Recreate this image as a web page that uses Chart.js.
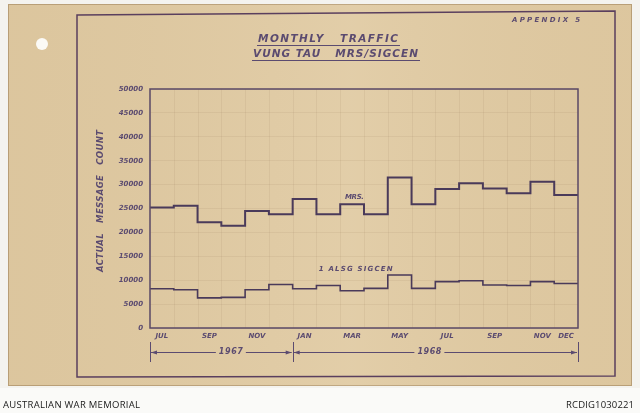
<!DOCTYPE html>
<html><head><meta charset="utf-8">
<script src="https://cdn.jsdelivr.net/npm/chart.js@4.4.0/dist/chart.umd.min.js"></script>
<style>html,body{margin:0;padding:0;background:#f5f4f0;}#wrap{width:640px;height:413px;position:relative;overflow:hidden}</style>
</head><body><div id="wrap"><canvas id="c" width="640" height="413"></canvas></div>
<script>
// ---- data ----
const months = ['JUL','AUG','SEP','OCT','NOV','DEC','JAN','FEB','MAR','APR','MAY','JUN','JUL','AUG','SEP','OCT','NOV','DEC'];
const shownMonthIdx = [0,2,4,6,8,10,12,14,16,17];
const mrs    = [25200,25600,22100,21400,24500,23800,27000,23800,25900,23800,31500,25900,29100,30300,29200,28200,30600,27800];
const sigcen = [8200,8000,6300,6400,8000,9100,8200,8900,7800,8300,11100,8300,9700,9900,9000,8900,9700,9300];
const seriesNames = ['MRS.', '1 ALSG SIGCEN'];
const years = [{label:'1967', from:0, to:6}, {label:'1968', from:6, to:18}];
const titleLines = ['MONTHLY   TRAFFIC', 'VUNG TAU   MRS/SIGCEN'];
const yTitle = 'ACTUAL   MESSAGE   COUNT';
const appendixText = 'APPENDIX 5';
const footerLeft = 'AUSTRALIAN WAR MEMORIAL';
const footerRight = 'RCDIG1030221';

const INK = '#5b4b70';
const LINE = '#4a3a5a';
const PAPER = '#e0caa2';

function steps(arr){
  const pts = arr.map((v,i)=>({x:i, y:v}));
  pts.push({x:arr.length, y:arr[arr.length-1]});
  return pts;
}

function fitText(ctx, text, x, y, width, align){
  ctx.save();
  ctx.letterSpacing = '0px';
  const w0 = ctx.measureText(text).width;
  const n = text.length;
  const sp = n > 1 ? (width - w0) / (n - 1) : 0;
  ctx.letterSpacing = sp + 'px';
  ctx.textAlign = 'left';
  let sx = x;
  if (align === 'center') sx = x - width/2;
  else if (align === 'right') sx = x - width;
  ctx.fillText(text, sx, y);
  ctx.restore();
}

const decor = {
  id: 'decor',
  beforeDraw(chart){
    const ctx = chart.ctx;
    ctx.save();
    ctx.fillStyle = '#f4f3ef';
    ctx.fillRect(0,0,640,413);
    // paper
    ctx.fillStyle = PAPER;
    ctx.fillRect(8,4,624,382);
    ctx.strokeStyle = 'rgba(150,120,80,0.5)';
    ctx.lineWidth = 1;
    ctx.strokeRect(8.5,4.5,623,381);
    const g = ctx.createLinearGradient(0,0,640,0);
    g.addColorStop(0,'rgba(120,90,50,0.04)');
    g.addColorStop(0.55,'rgba(255,255,255,0.07)');
    g.addColorStop(1,'rgba(120,90,50,0.03)');
    ctx.fillStyle = g;
    ctx.fillRect(8,4,624,382);
    // hole punch
    ctx.fillStyle = '#fbfaf6';
    ctx.beginPath(); ctx.arc(42,44,6,0,Math.PI*2); ctx.fill();
    // inner border
    ctx.strokeStyle = '#5a3f5e';
    ctx.lineWidth = 1.5;
    ctx.beginPath();
    ctx.moveTo(77,15); ctx.lineTo(615,11); ctx.lineTo(615,376); ctx.lineTo(77,377); ctx.closePath();
    ctx.stroke();
    // footer
    ctx.fillStyle = '#fafaf8';
    ctx.fillRect(0,388,640,25);
    ctx.fillStyle = '#1a1a1a';
    ctx.font = '9.5px "Open Sans", "DejaVu Sans", sans-serif';
    ctx.textBaseline = 'middle';
    fitText(ctx, footerLeft, 3, 405, 137, 'left');
    fitText(ctx, footerRight, 634, 405, 68, 'right');
    ctx.restore();
  },
  beforeDatasetsDraw(chart){
    const ctx = chart.ctx, a = chart.chartArea, xs = chart.scales.x;
    ctx.save();
    ctx.strokeStyle = 'rgba(140,110,80,0.10)';
    ctx.lineWidth = 1;
    for (let i=1;i<months.length;i++){
      const px = Math.round(xs.getPixelForValue(i))+0.5;
      ctx.beginPath(); ctx.moveTo(px,a.top); ctx.lineTo(px,a.bottom); ctx.stroke();
    }
    ctx.restore();
  },
  afterDraw(chart){
    const ctx = chart.ctx, a = chart.chartArea, xs = chart.scales.x, ys = chart.scales.y;
    ctx.save();
    ctx.strokeStyle = '#5a4866';
    ctx.lineWidth = 1.5;
    ctx.strokeRect(a.left, a.top, a.right-a.left, a.bottom-a.top);
    ctx.fillStyle = INK;
    ctx.strokeStyle = INK;
    ctx.textBaseline = 'middle';
    // title
    ctx.font = 'italic bold 10.5px "DejaVu Sans", sans-serif';
    fitText(ctx, titleLines[0], 258, 39, 140, 'left');
    fitText(ctx, titleLines[1], 253, 54, 165, 'left');
    ctx.lineWidth = 1;
    ctx.beginPath(); ctx.moveTo(257,45.5); ctx.lineTo(400,45.5); ctx.stroke();
    ctx.beginPath(); ctx.moveTo(252,60.5); ctx.lineTo(420,60.5); ctx.stroke();
    // appendix
    ctx.font = 'italic bold 7px "DejaVu Sans", sans-serif';
    fitText(ctx, appendixText, 512, 20, 68, 'left');
    // y title
    ctx.save();
    ctx.translate(101, 201);
    ctx.rotate(-Math.PI/2);
    ctx.font = 'italic bold 8.5px "DejaVu Sans", sans-serif';
    fitText(ctx, yTitle, 0, 0, 142, 'center');
    ctx.restore();
    // series labels
    ctx.font = 'italic bold 7px "DejaVu Sans", sans-serif';
    fitText(ctx, seriesNames[0], xs.getPixelForValue(8.6), ys.getPixelForValue(27400), 19, 'center');
    fitText(ctx, seriesNames[1], xs.getPixelForValue(8.65), ys.getPixelForValue(12350), 74, 'center');
    // year bracket
    const by = 352, t = 342, b = 362;
    ctx.lineWidth = 1;
    const edges = [years[0].from, years[0].to, years[1].to];
    edges.forEach(v=>{
      const px = Math.round(xs.getPixelForValue(v))+0.5;
      ctx.beginPath(); ctx.moveTo(px,t); ctx.lineTo(px,b); ctx.stroke();
    });
    ctx.font = 'italic bold 8px "DejaVu Sans", sans-serif';
    const centers = [3.4, 11.75];
    years.forEach((yr,k)=>{
      const x1 = xs.getPixelForValue(yr.from)+1, x2 = xs.getPixelForValue(yr.to)-1;
      const cx = xs.getPixelForValue(centers[k]);
      const half = 15;
      ctx.beginPath();
      ctx.moveTo(x1,by+0.5); ctx.lineTo(cx-half,by+0.5);
      ctx.moveTo(cx+half,by+0.5); ctx.lineTo(x2,by+0.5);
      ctx.stroke();
      ctx.beginPath();
      ctx.moveTo(x1,by+0.5); ctx.lineTo(x1+6,by-1.5); ctx.lineTo(x1+6,by+2.5); ctx.closePath(); ctx.fill();
      ctx.beginPath();
      ctx.moveTo(x2,by+0.5); ctx.lineTo(x2-6,by-1.5); ctx.lineTo(x2-6,by+2.5); ctx.closePath(); ctx.fill();
      fitText(ctx, yr.label, cx, by, 24, 'center');
    });
    ctx.restore();
  }
};

new Chart(document.getElementById('c'), {
  type: 'line',
  data: {
    datasets: [
      {label: seriesNames[0], data: steps(mrs), borderColor: LINE, borderWidth: 2, pointRadius: 0, stepped: true, fill: false},
      {label: seriesNames[1], data: steps(sigcen), borderColor: LINE, borderWidth: 1.6, pointRadius: 0, stepped: true, fill: false}
    ]
  },
  options: {
    responsive: false,
    devicePixelRatio: 1,
    animation: false,
    events: [],
    layout: {padding: {left: 90, right: 62, top: 89, bottom: 67}},
    plugins: {legend: {display: false}, tooltip: {enabled: false}},
    scales: {
      x: {
        type: 'linear', min: 0, max: months.length,
        afterBuildTicks: s => { s.ticks = shownMonthIdx.map(i => ({value: i + 0.5})); },
        afterFit: s => { s.height = 18; },
        grid: {display: false, drawTicks: false},
        border: {display: false},
        ticks: {
          autoSkip: false, maxRotation: 0, padding: 4,
          color: INK,
          font: {family: '"DejaVu Sans", sans-serif', size: 7, style: 'italic', weight: 'bold'},
          callback: v => months[Math.floor(v)]
        }
      },
      y: {
        min: 0, max: 50000,
        afterFit: s => { s.width = 60; },
        grid: {color: 'rgba(140,110,80,0.10)', drawTicks: false},
        border: {display: false},
        ticks: {
          stepSize: 5000, padding: 7,
          color: INK,
          font: {family: '"DejaVu Sans", sans-serif', size: 7, style: 'italic', weight: 'bold'},
          callback: v => String(v)
        }
      }
    }
  },
  plugins: [decor]
});
</script>
</body></html>
